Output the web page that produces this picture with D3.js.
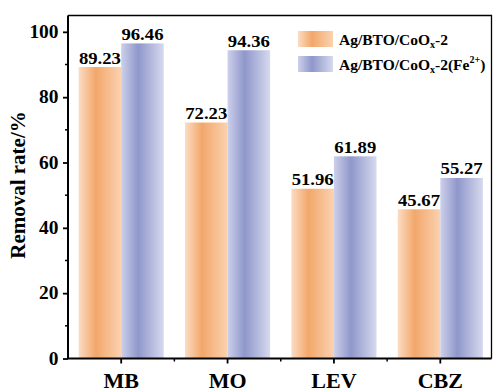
<!DOCTYPE html>
<html>
<head>
<meta charset="utf-8">
<script src="https://cdn.jsdelivr.net/npm/d3@7"></script>
<style>
  html, body { margin: 0; padding: 0; background: #fff; }
  svg { display: block; }
</style>
</head>
<body>
<svg id="chart" width="493" height="392"></svg>
<script>
// Pollutant categories and removal rates (%)
const categories = ["MB", "MO", "LEV", "CBZ"];
const seriesNames = ["base", "fe"];
const baseValues = [89.23, 72.23, 51.96, 45.67];
const feValues = [96.46, 94.36, 61.89, 55.27];
const yTicks = [0, 20, 40, 60, 80, 100];
const yMinorTicks = [10, 30, 50, 70, 90];

const FONT = '"Liberation Serif", "Times New Roman", Times, serif';
const svg = d3.select("#chart");
const m = { left: 68, right: 491.5, top: 15.5, bottom: 358.5 };

const x0 = d3.scaleBand().domain(categories).range([m.left, 493.5]).padding(0);
const bw = x0.bandwidth();
const x1 = d3.scaleBand().domain(seriesNames).range([bw * 0.1, bw * 0.9]).padding(0);
const y = d3.scaleLinear().domain([0, 105]).range([m.bottom, m.top]);

function styleText(sel, size) {
  return sel.style("font-family", FONT).style("font-weight", "bold")
    .style("font-size", size + "px").style("fill", "#000");
}

// Gradients: light edges, deeper tone left of centre
const defs = svg.append("defs");
function grad(id, light, dark, lightR) {
  const g = defs.append("linearGradient").attr("id", id)
    .attr("x1", "0%").attr("x2", "100%").attr("y1", "0%").attr("y2", "0%");
  g.append("stop").attr("offset", "0%").attr("stop-color", light);
  g.append("stop").attr("offset", "40%").attr("stop-color", dark);
  g.append("stop").attr("offset", "100%").attr("stop-color", lightR);
}
grad("gBase", "#fcdcc2", "#f2a76b", "#fbd2b0");
grad("gFe", "#cdd0ea", "#8f97cb", "#d6d9ee");
const fills = { base: "url(#gBase)", fe: "url(#gFe)" };

const rows = categories.map((c, i) => ({ cat: c, base: baseValues[i], fe: feValues[i] }));

// Bars
const groups = svg.append("g").selectAll("g").data(rows).join("g")
  .attr("transform", d => `translate(${x0(d.cat)},0)`);
groups.selectAll("rect")
  .data(d => seriesNames.map(k => ({ key: k, value: d[k] })))
  .join("rect")
  .attr("x", d => x1(d.key))
  .attr("width", x1.bandwidth())
  .attr("y", d => y(d.value))
  .attr("height", d => y(0) - y(d.value))
  .attr("fill", d => fills[d.key]);

// Value labels
styleText(groups.selectAll("text.val")
  .data(d => seriesNames.map(k => ({ key: k, value: d[k] })))
  .join("text")
  .attr("class", "val")
  .attr("text-anchor", "middle")
  .attr("transform", d => `translate(${x1(d.key) + x1.bandwidth() / 2},${y(d.value) - 3.5}) scale(1.1,1)`)
  .text(d => d.value.toFixed(2)), 17);

// Frame
svg.append("path")
  .attr("d", `M${m.left},${m.top}H${m.right}V${m.bottom}`)
  .attr("fill", "none").attr("stroke", "#000").attr("stroke-width", 1.3);

// Y axis
const yAxis = svg.append("g").attr("transform", `translate(${m.left},0)`)
  .call(d3.axisLeft(y).tickValues(yTicks).tickSize(5).tickPadding(4).tickFormat(d3.format("d")));
yAxis.select(".domain").attr("stroke-width", 2).attr("d", `M0,${m.top}V${m.bottom}`);
yAxis.selectAll(".tick line").attr("stroke-width", 1.8);
styleText(yAxis.selectAll(".tick text"), 18).attr("transform", "scale(1.08,1)").attr("x", -9.5 / 1.08);
svg.append("g").selectAll("line").data(yMinorTicks).join("line")
  .attr("x1", m.left - 3).attr("x2", m.left)
  .attr("y1", d => y(d)).attr("y2", d => y(d))
  .attr("stroke", "#000").attr("stroke-width", 1.5);

// X axis
const xAxis = svg.append("g").attr("transform", `translate(0,${m.bottom})`)
  .call(d3.axisBottom(x0).tickSize(5).tickPadding(9));
xAxis.select(".domain").attr("stroke-width", 2).attr("d", `M${m.left},0H${m.right}`);
xAxis.selectAll(".tick line").attr("stroke-width", 1.8);
styleText(xAxis.selectAll(".tick text"), 22);
const minorX = categories.slice(1).map(c => x0(c));
svg.append("g").selectAll("line").data(minorX).join("line")
  .attr("x1", d => d).attr("x2", d => d)
  .attr("y1", m.bottom).attr("y2", m.bottom + 3)
  .attr("stroke", "#000").attr("stroke-width", 1.5);

// Y axis title
styleText(svg.append("text")
  .attr("transform", `translate(25,${(m.top + m.bottom) / 2 - 2}) rotate(-90)`)
  .attr("text-anchor", "middle")
  .text("Removal rate/%"), 21);

// Legend
const legend = svg.append("g");
const legItems = [
  { key: "base", y: 31, parts: [["Ag/BTO/CoO", 0], ["x", 1], ["-2", 0]] },
  { key: "fe", y: 56, parts: [["Ag/BTO/CoO", 0], ["x", 1], ["-2(Fe", 0], ["2+", -1], [")", 0]] }
];
legItems.forEach(it => {
  legend.append("rect").attr("x", 298).attr("y", it.y).attr("width", 35).attr("height", 16)
    .attr("fill", fills[it.key]);
  const t = styleText(legend.append("text").attr("x", 339).attr("y", it.y + 14), 15.5);
  let shiftNow = 0;
  it.parts.forEach(([s, shift]) => {
    const target = shift === 1 ? 3 : shift === -1 ? -7 : 0;
    const ts = t.append("tspan").text(s).attr("dy", target - shiftNow);
    if (shift !== 0) ts.style("font-size", "10px");
    shiftNow = target;
  });
});
</script>
</body>
</html>
